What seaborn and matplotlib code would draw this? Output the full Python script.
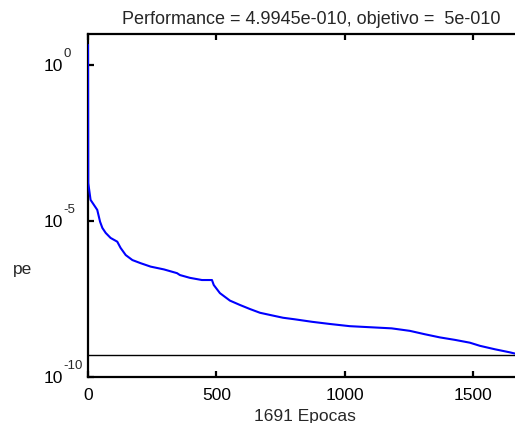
import matplotlib
matplotlib.use("Agg")
import matplotlib.pyplot as plt
import matplotlib.transforms as mtransforms
import seaborn as sns
import pandas as pd
from matplotlib.ticker import FixedLocator, NullLocator, FixedFormatter

# Data (log10 of performance per epoch)
epochs = [0, 1, 10, 23, 36, 47, 56, 69, 88, 114, 127, 147, 173, 205, 244, 296,
          347, 358, 397, 444, 483,
          490, 514, 553, 592, 631, 670, 709, 760, 806, 873, 943, 1020, 1183,
          1254, 1313, 1371, 1430, 1488, 1527, 1585, 1644, 1691]
log_perf = [0.65, -3.78, -4.32, -4.48, -4.64, -5.02, -5.22, -5.38, -5.54, -5.66,
            -5.86, -6.09, -6.25, -6.35, -6.46, -6.55,
            -6.67, -6.73, -6.82, -6.89, -6.89,
            -7.05, -7.31, -7.55, -7.69, -7.82, -7.94, -8.01, -8.1, -8.15, -8.23,
            -8.30, -8.37, -8.44,
            -8.52, -8.63, -8.73, -8.81, -8.90, -9.0, -9.11, -9.21, -9.3015]
goal = 5e-10
n_epochs = 1691
title_text = "Performance = 4.9945e-010, objetivo =  5e-010"
xlabel_text = "1691 Epocas"
ylabel_text = "pe"
xticks = [0, 500, 1000, 1500]
yticks = [1e-10, 1e-5, 1e0]
ytick_base = ["10", "10", "10"]
ytick_exp = ["-10", "-5", "0"]

df = pd.DataFrame({"epoch": epochs, "perf": [10 ** v for v in log_perf]})

sns.set_style("ticks")
plt.rcParams["font.family"] = ["Liberation Sans", "DejaVu Sans"]

fig = plt.figure(figsize=(5.15, 4.23), dpi=100)
ax = fig.add_axes([88 / 515, 1 - 377 / 423, 434 / 515, (377 - 34) / 423])

sns.lineplot(data=df, x="epoch", y="perf", ax=ax, color="#0000ff",
             linewidth=1.5, zorder=3)
ax.axhline(goal, color="black", linewidth=1.0, zorder=2)

ax.set_yscale("log")
ax.set_xlim(0, n_epochs)
ax.set_ylim(1e-10, 1e1)
ax.xaxis.set_major_locator(FixedLocator(xticks))
ax.yaxis.set_major_locator(FixedLocator(yticks))
ax.yaxis.set_minor_locator(NullLocator())
ax.yaxis.set_major_formatter(FixedFormatter(ytick_base))

for s in ax.spines.values():
    s.set_linewidth(1.6)
    s.set_color("black")
    s.set_zorder(2.5)
ax.tick_params(direction="in", length=4, width=1.6, labelsize=12.5,
               top=True, right=True, colors="black")
ax.tick_params(axis="x", pad=8)
ax.tick_params(axis="y", pad=18)

# exponents of the y tick labels (MATLAB style superscripts)
blend = mtransforms.blended_transform_factory(ax.transAxes, ax.transData)
exp_tr = mtransforms.offset_copy(blend, fig=fig, x=0, y=11, units="dots")
for val, ex in zip(yticks, ytick_exp):
    ax.text(-25 / 434, val, ex, transform=exp_tr, fontsize=9.5,
            ha="left", va="center", clip_on=False)

ax.set_title(title_text, fontsize=13, pad=7, x=(311 - 88) / 434)
ax.set_xlabel(xlabel_text, fontsize=12.5, labelpad=4)
ax.set_ylabel("")
fig.text(23 / 515, 1 - 269 / 423, ylabel_text, fontsize=12.5, ha="center", va="center")

fig.savefig("out.png", dpi=100)
